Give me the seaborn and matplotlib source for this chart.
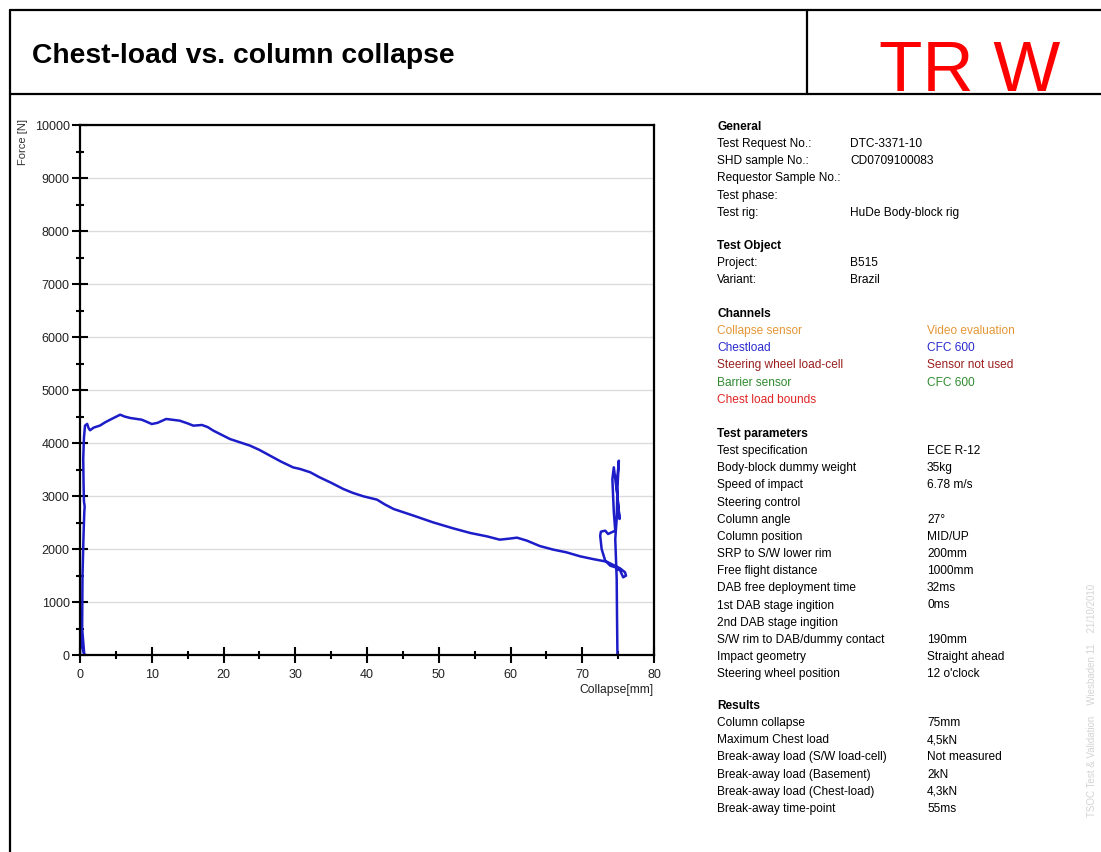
import matplotlib
matplotlib.use('Agg')
import matplotlib.pyplot as plt
import seaborn as sns
from matplotlib.lines import Line2D

# curve: collapse [mm] vs force [N]
collapse_mm = [0.0, 0.1, 0.25, 0.6, 0.3, 0.35, 0.5, 0.6, 0.65, 0.55, 0.5, 0.45, 0.55, 0.7,
               1.0, 1.2, 1.4, 1.9, 2.8, 3.5, 4.5, 5.6, 6.2, 7.0, 8.6, 9.3, 10.0, 10.8,
               12.0, 12.8, 13.9, 15.0, 15.8, 17.0, 17.8, 18.6, 19.8, 20.9, 23.7, 25.0,
               26.5, 28.0, 29.7, 30.7, 32.1, 33.4, 35.0, 36.7, 38.0, 39.5, 41.4, 42.5,
               43.7, 46.5, 49.2, 52.0, 54.4, 56.7, 58.5, 59.8, 60.9, 62.3, 64.1, 66.0,
               67.8, 69.7, 71.5, 73.4, 75.26, 75.96, 76.1, 75.7, 75.3, 74.6, 73.9, 73.2,
               72.7, 72.5, 72.6, 73.2, 73.6, 74.1, 74.6, 74.4, 74.2, 74.4, 74.6, 74.9,
               75.2, 75.0, 74.8, 75.1, 74.9, 74.8, 74.6, 74.8, 74.85, 74.9, 74.9]
force_n = [0, 800, 200, 0, 500, 1500, 2300, 2700, 2800, 2900, 3200, 3700, 4100, 4330,
           4360, 4280, 4240, 4290, 4330, 4390, 4460, 4534, 4500, 4472, 4440, 4400, 4358, 4380,
           4453, 4440, 4421, 4370, 4327, 4340, 4300, 4232, 4150, 4075, 3950, 3870,
           3760, 3650, 3540, 3509, 3447, 3352, 3250, 3132, 3060, 2994, 2931, 2840,
           2755, 2629, 2503, 2390, 2302, 2239, 2176, 2195, 2214, 2157, 2055, 1987,
           1937, 1862, 1810, 1761, 1636, 1560, 1497, 1466, 1590, 1655, 1686, 1780,
           2000, 2251, 2327, 2346, 2283, 2315, 2346, 2692, 3321, 3541, 3321, 3006,
           2566, 2817, 3194, 3666, 3132, 2566, 2189, 1434, 679, 50, 0]

general_labels = ['Test Request No.:', 'SHD sample No.:', 'Requestor Sample No.:', 'Test phase:', 'Test rig:']
general_values = ['DTC-3371-10', 'CD0709100083', '', '', 'HuDe Body-block rig']

object_labels = ['Project:', 'Variant:']
object_values = ['B515', 'Brazil']

channel_names = ['Collapse sensor', 'Chestload', 'Steering wheel load-cell', 'Barrier sensor', 'Chest load bounds']
channel_values = ['Video evaluation', 'CFC 600', 'Sensor not used', 'CFC 600', '']
channel_colors = ['#e59636', '#2a2ad0', '#9a1f1f', '#2f8a2f', '#e02525']

param_labels = ['Test specification', 'Body-block dummy weight', 'Speed of impact', 'Steering control',
                'Column angle', 'Column position', 'SRP to S/W lower rim', 'Free flight distance',
                'DAB free deployment time', '1st DAB stage ingition', '2nd DAB stage ingition',
                'S/W rim to DAB/dummy contact', 'Impact geometry', 'Steering wheel position']
param_values = ['ECE R-12', '35kg', '6.78 m/s', '', '27°', 'MID/UP', '200mm', '1000mm',
                '32ms', '0ms', '', '190mm', 'Straight ahead', "12 o'clock"]

result_labels = ['Column collapse', 'Maximum Chest load', 'Break-away load (S/W load-cell)',
                 'Break-away load (Basement)', 'Break-away load (Chest-load)', 'Break-away time-point']
result_values = ['75mm', '4,5kN', 'Not measured', '2kN', '4,3kN', '55ms']

W, H = 1101, 853

sns.set_style('white')
plt.rcParams['font.family'] = ['Liberation Sans', 'DejaVu Sans']
plt.rcParams['text.color'] = 'black'

fig = plt.figure(figsize=(W / 100, H / 100), dpi=100)


def fx(px):
    return px / W


def fy(py):
    return 1 - py / H


# frame lines of the sheet
for xs, ys in [((10, W), (11, 11)), ((10, W), (95, 95)), ((10, 10), (11, H)), ((807, 807), (11, 95))]:
    fig.add_artist(Line2D([fx(xs[0]), fx(xs[1])], [fy(ys[0]), fy(ys[1])],
                          transform=fig.transFigure, color='black', lw=1.6))

fig.text(fx(32), fy(56), 'Chest-load vs. column collapse', fontsize=20.3, fontweight='bold', va='center')
fig.text(fx(970), fy(91), 'TR W', fontsize=51, color='#ff0000', ha='center', va='baseline')

# plot
ax = fig.add_axes([fx(80), fy(656), fx(654) - fx(80), fy(126) - fy(656)])
sns.lineplot(x=collapse_mm, y=force_n, sort=False, estimator=None, ax=ax, color='#1c1cc8', lw=1.8)
ax.set_xlim(0, 80)
ax.set_ylim(0, 10000)
ax.set_xticks(range(0, 81, 10))
ax.set_yticks(range(0, 10001, 1000))
ax.set_xticks(range(5, 80, 10), minor=True)
ax.set_yticks(range(500, 10000, 1000), minor=True)
ax.tick_params(which='both', bottom=True, left=True, top=False, right=False)
ax.tick_params(which='major', direction='inout', length=11, width=1.5, labelsize=9, pad=2,
               color='black', labelcolor='#222222')
ax.tick_params(which='minor', direction='inout', length=6, width=1.5, color='black')
ax.tick_params(axis='x', which='major', pad=4)
ax.yaxis.grid(True, color='#dcdcdc', lw=1)
ax.set_axisbelow(True)
for s in ax.spines.values():
    s.set_color('black')
    s.set_linewidth(1.6)
ax.set_xlabel('')
ax.set_ylabel('')
fig.text(fx(23), fy(142), 'Force [N]', rotation=90, fontsize=8, ha='center', va='center', color='#333333')
fig.text(fx(654), fy(690), 'Collapse[mm]', fontsize=8.7, ha='right', va='center', color='#222222')

# info panel
fs = 8.6
step = 17.15
col1, col2, col3 = 717, 850, 927


def block(title, y0, labels, values, vx, colors=None):
    fig.text(fx(col1), fy(y0), title, fontsize=fs, fontweight='bold', va='center')
    for i, (lab, val) in enumerate(zip(labels, values)):
        c = colors[i] if colors else 'black'
        yy = fy(y0 + step * (i + 1))
        fig.text(fx(col1), yy, lab, fontsize=fs, va='center', color=c)
        if val:
            fig.text(fx(vx), yy, val, fontsize=fs, va='center', color=c)


block('General', 127, general_labels, general_values, col2)
block('Test Object', 246, object_labels, object_values, col2)
block('Channels', 314, channel_names, channel_values, col3, channel_colors)
block('Test parameters', 434, param_labels, param_values, col3)
block('Results', 706, result_labels, result_values, col3)

fig.text(fx(1092), fy(700), 'TSOC Test & Validation    Wiesbaden 11    21/10/2010', rotation=90,
         fontsize=7, color='#d4d4d4', ha='center', va='center')

fig.savefig('out.png', dpi=100)
